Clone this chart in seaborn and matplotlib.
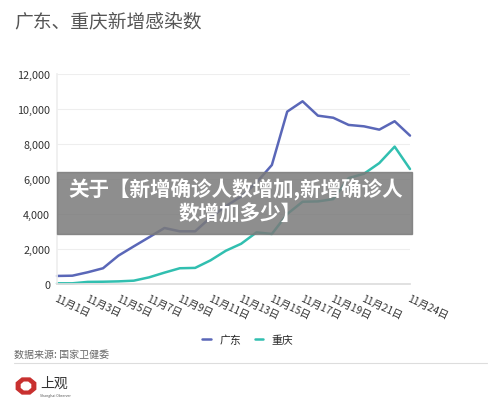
import matplotlib
matplotlib.use("Agg")
import matplotlib.pyplot as plt
import seaborn as sns
import pandas as pd
import numpy as np
from matplotlib.patches import Rectangle, RegularPolygon
from matplotlib.lines import Line2D

dates = [f"11月{d}日" for d in range(1, 25)]
guangdong = [460, 475, 670, 900, 1620, 2150, 2670, 3200, 3010, 3010,
             3800, 4450, 5000, 5800, 6800, 9850, 10440, 9620, 9500, 9090,
             9010, 8820, 9300, 8480]
chongqing = [40, 40, 120, 130, 150, 190, 380, 650, 900, 920,
             1350, 1900, 2300, 2950, 2860, 4000, 4700, 4720, 4850, 6050,
             6300, 6910, 7850, 6570]
tick_labels = ["11月1日", "11月3日", "11月5日", "11月7日", "11月9日", "11月11日",
               "11月13日", "11月15日", "11月17日", "11月19日", "11月21日", "11月24日"]
series_names = ["广东", "重庆"]
colors = ["#5a67b8", "#31bfb0"]

sns.set_theme(style="white")
plt.rcParams['font.family'] = ['Noto Sans CJK SC', 'DejaVu Sans']

df = pd.DataFrame({
    "idx": list(range(len(dates))) * 2,
    "value": guangdong + chongqing,
    "series": [series_names[0]] * len(dates) + [series_names[1]] * len(dates),
})

fig = plt.figure(figsize=(5, 4.1), dpi=100)
ax = fig.add_axes([57 / 500, 1 - 285 / 410, 353 / 500, 210 / 410])

sns.lineplot(data=df, x="idx", y="value", hue="series", palette=colors,
             linewidth=1.8, ax=ax, legend=False, clip_on=False)

ax.set_xlim(0, len(dates) - 1)
ax.set_ylim(0, 12000)
ax.set_yticks(range(0, 12001, 2000))
ax.set_yticklabels([f"{v:,}" for v in range(0, 12001, 2000)], fontsize=7.8, color="#333333")
tick_pos = [dates.index(t) for t in tick_labels]
ax.set_xticks(tick_pos)
ax.set_xticklabels(tick_labels, rotation=-25, ha="left", rotation_mode="anchor",
                   fontsize=7.4, color="#333333")
ax.tick_params(axis="x", length=3, color="#dddddd", pad=3)
ax.tick_params(axis="y", length=0, pad=5)
ax.set_xlabel("")
ax.set_ylabel("")
ax.grid(axis="y", color="#eeeeee", linewidth=0.8)
for s in ["top", "right"]:
    ax.spines[s].set_visible(False)
ax.spines["left"].set_color("#eeeeee")
ax.spines["bottom"].set_color("#dddddd")

# Legend
handles = [Line2D([0], [0], color=c, lw=1.8) for c in colors]
fig.legend(handles, series_names, loc="center", bbox_to_anchor=(248 / 500, 1 - 341 / 410),
           ncol=2, frameon=False, fontsize=7.8, handlelength=0.8, handletextpad=0.8,
           columnspacing=1.2)

# Title
fig.text(14 / 500, 1 - 22 / 410, "广东、重庆新增感染数", fontsize=13.5, color="#555555",
         va="center", ha="left")

# Source and separator
fig.text(14 / 500, 1 - 355 / 410, "数据来源: 国家卫健委", fontsize=7.2, color="#666666",
         va="center", ha="left")
fig.add_artist(Line2D([14 / 500, 487 / 500], [1 - 364 / 410, 1 - 364 / 410],
                      color="#dddddd", lw=0.8))

# Logo
fig.add_artist(RegularPolygon((26 / 500, 1 - 387 / 410), numVertices=8, radius=0.021,
                              orientation=np.pi / 8, color="#c8302f",
                              transform=fig.transFigure))
fig.add_artist(RegularPolygon((26 / 500, 1 - 387 / 410), numVertices=8, radius=0.010,
                              orientation=np.pi / 8, color="white",
                              transform=fig.transFigure))
fig.text(40 / 500, 1 - 384 / 410, "上观", fontsize=10, color="#333333", va="center", ha="left")
fig.text(40 / 500, 1 - 396 / 410, "Shanghai Observer", fontsize=2.5, color="#555555",
         va="center", ha="left")

# Banner overlay
fig.add_artist(Rectangle((57 / 500, 1 - 235 / 410), 355 / 500, 62 / 410,
                         transform=fig.transFigure, color="#7a7a7a", alpha=0.85,
                         zorder=10))
fig.text(236 / 500, 1 - 190 / 410, "关于【新增确诊人数增加,新增确诊人", fontsize=14.8,
         color="white", fontweight="bold", ha="center", va="center", zorder=11)
fig.text(240 / 500, 1 - 214 / 410, "数增加多少】", fontsize=14.8,
         color="white", fontweight="bold", ha="center", va="center", zorder=11)

fig.savefig("out.png", dpi=100)
